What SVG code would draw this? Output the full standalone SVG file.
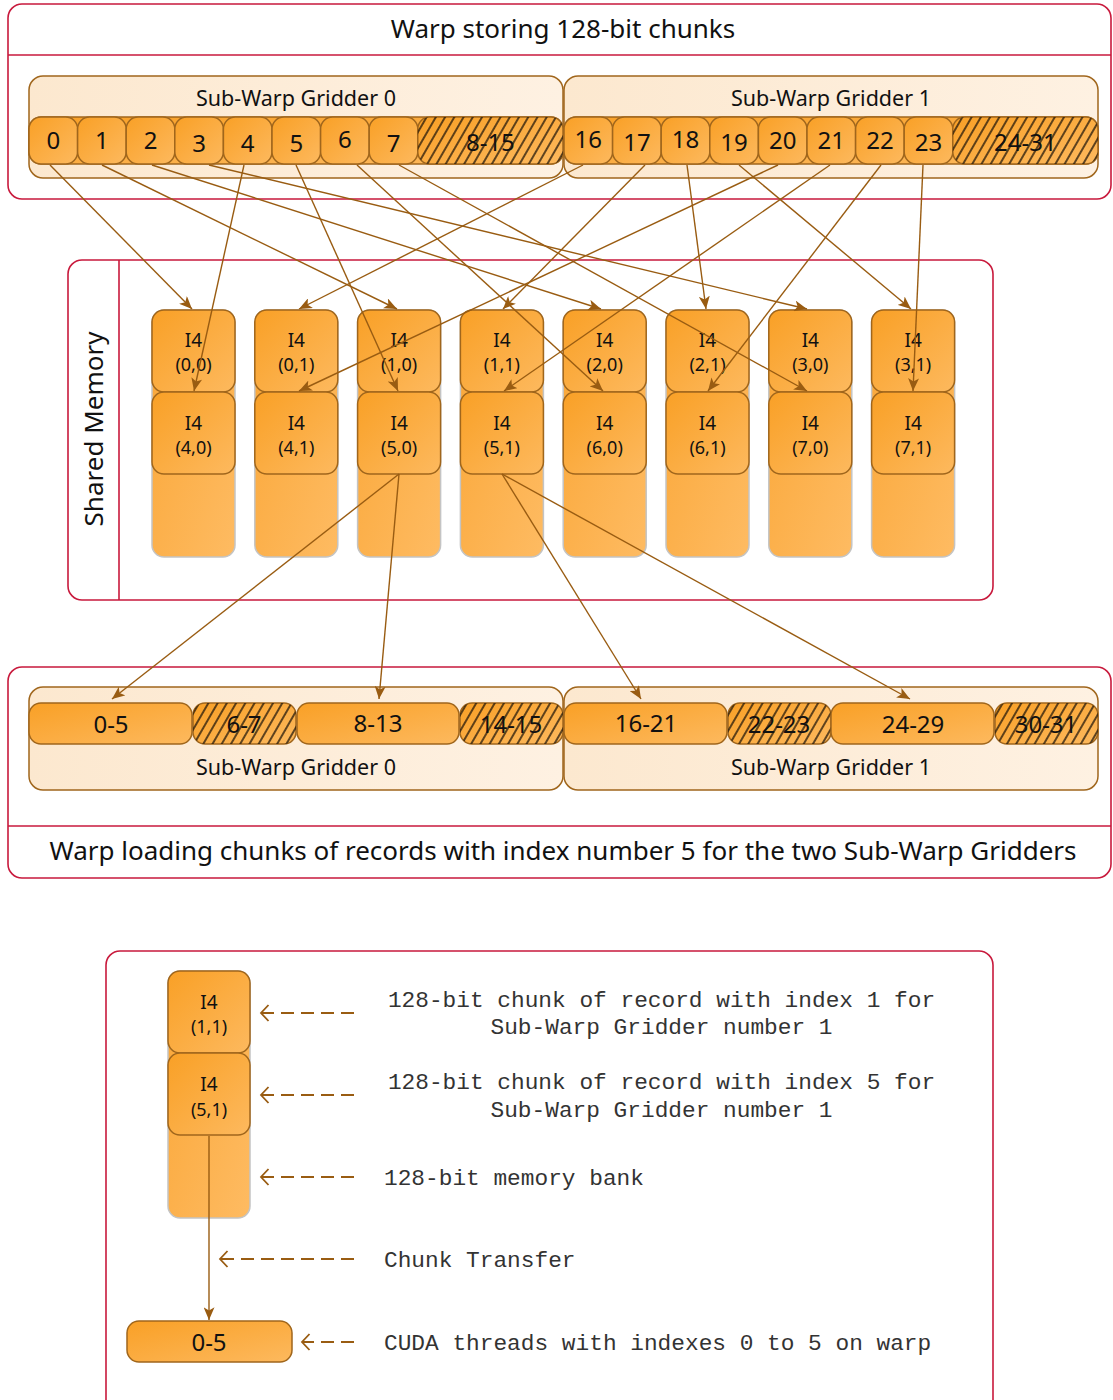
<svg xmlns="http://www.w3.org/2000/svg" width="1113" height="1400" viewBox="0 0 1113 1400">
<defs>
<linearGradient id="cellG" x1="0" y1="0" x2="1" y2="1">
<stop offset="0" stop-color="#F9A026"/><stop offset="1" stop-color="#FDB95E"/>
</linearGradient>
<linearGradient id="bankG" x1="0" y1="0" x2="1" y2="1">
<stop offset="0" stop-color="#FAA636"/><stop offset="1" stop-color="#FEBB62"/>
</linearGradient>
<linearGradient id="swgG" x1="0" y1="0" x2="1" y2="0">
<stop offset="0" stop-color="#FCE8CF"/><stop offset="1" stop-color="#FEF1E2"/>
</linearGradient>
<pattern id="hatch" width="8" height="8" patternUnits="userSpaceOnUse" patternTransform="rotate(30)">
<line x1="4" y1="0" x2="4" y2="8" stroke="#1a1208" stroke-width="1.4"/>
</pattern>
<marker id="arr" viewBox="0 0 14 12" refX="14" refY="6" markerWidth="13" markerHeight="11" markerUnits="userSpaceOnUse" orient="auto">
<path d="M0,0 L14,6 L0,12 L3.5,6 Z" fill="#995C12"/>
</marker>
<marker id="chev" viewBox="0 0 12 18" refX="10" refY="9" markerWidth="12" markerHeight="18" markerUnits="userSpaceOnUse" orient="auto">
<path d="M2.5,1 L10,9 L2.5,17" fill="none" stroke="#995C12" stroke-width="1.8"/>
</marker>
<style>
.frame{fill:#fff;stroke:#C8193C;stroke-width:1.6}
.hdr{stroke:#C8193C;stroke-width:1.6}
.swg{fill:url(#swgG);stroke:#A0661C;stroke-width:1.5}
.row{fill:url(#cellG);stroke:#A0661C;stroke-width:1.5}
.cell{fill:url(#cellG);stroke:#A0661C;stroke-width:1.5}
.hat{fill:url(#hatch);stroke:none}
.bank{fill:url(#bankG);stroke:#C4C4C4;stroke-width:1.5}
.t{font-family:"Noto Sans","Open Sans","Liberation Sans",sans-serif;fill:#111;text-anchor:middle}
.ttl{font-size:26px}
.sw{font-size:21.5px}
.num{font-size:24px}
.c1{font-size:19px}
.c2{font-size:18px}
.mono{font-family:"Liberation Mono","Courier New",monospace;font-size:22.8px;fill:#333}
.con{fill:none;stroke:#995C12;stroke-width:1.4;marker-end:url(#arr)}
.leg{fill:none;stroke:#995C12;stroke-width:1.8;stroke-dasharray:13 7;marker-end:url(#chev)}
</style>
</defs>

<!-- Top section -->
<g id="top-warp">
<rect class="frame" x="8" y="4" width="1103" height="195" rx="14"/>
<line class="hdr" x1="8" y1="55" x2="1111" y2="55"/>
<text class="t ttl" x="563" y="38">Warp storing 128-bit chunks</text>
</g>

<g id="top-swg0">
<rect class="swg" x="29" y="76" width="534" height="102" rx="14"/>
<text class="t sw" x="296" y="106">Sub-Warp Gridder 0</text>
<rect class="row" x="29" y="117" width="534" height="47" rx="12"/>
<rect class="cell" x="29" y="117" width="48.6" height="47" rx="12"/>
<rect class="cell" x="77.6" y="117" width="48.6" height="47" rx="12"/>
<rect class="cell" x="126.2" y="117" width="48.6" height="47" rx="12"/>
<rect class="cell" x="174.8" y="117" width="48.6" height="47" rx="12"/>
<rect class="cell" x="223.4" y="117" width="48.6" height="47" rx="12"/>
<rect class="cell" x="272" y="117" width="48.6" height="47" rx="12"/>
<rect class="cell" x="320.6" y="117" width="48.6" height="47" rx="12"/>
<rect class="cell" x="369.2" y="117" width="48.6" height="47" rx="12"/>
<rect class="cell" x="417.8" y="117" width="145.2" height="47" rx="12"/>
<rect class="hat" x="417.8" y="117" width="145.2" height="47" rx="12"/>
<text class="t num" x="53.3" y="149">0</text>
<text class="t num" x="101.9" y="149">1</text>
<text class="t num" x="150.5" y="149">2</text>
<text class="t num" x="199.1" y="152">3</text>
<text class="t num" x="247.7" y="152">4</text>
<text class="t num" x="296.3" y="152">5</text>
<text class="t num" x="344.9" y="148">6</text>
<text class="t num" x="393.5" y="152">7</text>
<text class="t num" x="490.4" y="151">8-15</text>
</g>

<g id="top-swg1">
<rect class="swg" x="564" y="76" width="534" height="102" rx="14"/>
<text class="t sw" x="831" y="106">Sub-Warp Gridder 1</text>
<rect class="row" x="564" y="117" width="534" height="47" rx="12"/>
<rect class="cell" x="564" y="117" width="48.6" height="47" rx="12"/>
<rect class="cell" x="612.6" y="117" width="48.6" height="47" rx="12"/>
<rect class="cell" x="661.2" y="117" width="48.6" height="47" rx="12"/>
<rect class="cell" x="709.8" y="117" width="48.6" height="47" rx="12"/>
<rect class="cell" x="758.4" y="117" width="48.6" height="47" rx="12"/>
<rect class="cell" x="807" y="117" width="48.6" height="47" rx="12"/>
<rect class="cell" x="855.6" y="117" width="48.6" height="47" rx="12"/>
<rect class="cell" x="904.2" y="117" width="48.6" height="47" rx="12"/>
<rect class="cell" x="952.8" y="117" width="145.2" height="47" rx="12"/>
<rect class="hat" x="952.8" y="117" width="145.2" height="47" rx="12"/>
<text class="t num" x="588.3" y="148">16</text>
<text class="t num" x="636.9" y="151">17</text>
<text class="t num" x="685.5" y="148">18</text>
<text class="t num" x="734.1" y="151">19</text>
<text class="t num" x="782.7" y="149">20</text>
<text class="t num" x="831.3" y="149">21</text>
<text class="t num" x="879.9" y="149">22</text>
<text class="t num" x="928.5" y="151">23</text>
<text class="t num" x="1025.4" y="151">24-31</text>
</g>

<!-- Shared memory -->
<g id="shared-memory">
<rect class="frame" x="68" y="260" width="925" height="340" rx="14"/>
<line class="hdr" x1="119" y1="260" x2="119" y2="600"/>
<text class="t" style="font-size:26px" transform="translate(103,429) rotate(-90)">Shared Memory</text>
</g>

<g id="bank0">
<rect class="bank" x="152" y="310" width="83" height="247" rx="12"/>
<rect class="cell" x="152" y="310" width="83" height="82" rx="12"/>
<rect class="cell" x="152" y="392" width="83" height="82" rx="12"/>
<text class="t c1" x="193.5" y="347">I4</text><text class="t c2" x="193.5" y="371">(0,0)</text>
<text class="t c1" x="193.5" y="430">I4</text><text class="t c2" x="193.5" y="454">(4,0)</text>
</g>
<g id="bank1">
<rect class="bank" x="254.8" y="310" width="83" height="247" rx="12"/>
<rect class="cell" x="254.8" y="310" width="83" height="82" rx="12"/>
<rect class="cell" x="254.8" y="392" width="83" height="82" rx="12"/>
<text class="t c1" x="296.3" y="347">I4</text><text class="t c2" x="296.3" y="371">(0,1)</text>
<text class="t c1" x="296.3" y="430">I4</text><text class="t c2" x="296.3" y="454">(4,1)</text>
</g>
<g id="bank2">
<rect class="bank" x="357.6" y="310" width="83" height="247" rx="12"/>
<rect class="cell" x="357.6" y="310" width="83" height="82" rx="12"/>
<rect class="cell" x="357.6" y="392" width="83" height="82" rx="12"/>
<text class="t c1" x="399.1" y="347">I4</text><text class="t c2" x="399.1" y="371">(1,0)</text>
<text class="t c1" x="399.1" y="430">I4</text><text class="t c2" x="399.1" y="454">(5,0)</text>
</g>
<g id="bank3">
<rect class="bank" x="460.4" y="310" width="83" height="247" rx="12"/>
<rect class="cell" x="460.4" y="310" width="83" height="82" rx="12"/>
<rect class="cell" x="460.4" y="392" width="83" height="82" rx="12"/>
<text class="t c1" x="501.9" y="347">I4</text><text class="t c2" x="501.9" y="371">(1,1)</text>
<text class="t c1" x="501.9" y="430">I4</text><text class="t c2" x="501.9" y="454">(5,1)</text>
</g>
<g id="bank4">
<rect class="bank" x="563.2" y="310" width="83" height="247" rx="12"/>
<rect class="cell" x="563.2" y="310" width="83" height="82" rx="12"/>
<rect class="cell" x="563.2" y="392" width="83" height="82" rx="12"/>
<text class="t c1" x="604.7" y="347">I4</text><text class="t c2" x="604.7" y="371">(2,0)</text>
<text class="t c1" x="604.7" y="430">I4</text><text class="t c2" x="604.7" y="454">(6,0)</text>
</g>
<g id="bank5">
<rect class="bank" x="666" y="310" width="83" height="247" rx="12"/>
<rect class="cell" x="666" y="310" width="83" height="82" rx="12"/>
<rect class="cell" x="666" y="392" width="83" height="82" rx="12"/>
<text class="t c1" x="707.5" y="347">I4</text><text class="t c2" x="707.5" y="371">(2,1)</text>
<text class="t c1" x="707.5" y="430">I4</text><text class="t c2" x="707.5" y="454">(6,1)</text>
</g>
<g id="bank6">
<rect class="bank" x="768.8" y="310" width="83" height="247" rx="12"/>
<rect class="cell" x="768.8" y="310" width="83" height="82" rx="12"/>
<rect class="cell" x="768.8" y="392" width="83" height="82" rx="12"/>
<text class="t c1" x="810.3" y="347">I4</text><text class="t c2" x="810.3" y="371">(3,0)</text>
<text class="t c1" x="810.3" y="430">I4</text><text class="t c2" x="810.3" y="454">(7,0)</text>
</g>
<g id="bank7">
<rect class="bank" x="871.6" y="310" width="83" height="247" rx="12"/>
<rect class="cell" x="871.6" y="310" width="83" height="82" rx="12"/>
<rect class="cell" x="871.6" y="392" width="83" height="82" rx="12"/>
<text class="t c1" x="913.1" y="347">I4</text><text class="t c2" x="913.1" y="371">(3,1)</text>
<text class="t c1" x="913.1" y="430">I4</text><text class="t c2" x="913.1" y="454">(7,1)</text>
</g>

<!-- Bottom section -->
<g id="bottom-warp">
<rect class="frame" x="8" y="667" width="1103" height="211" rx="14"/>
<line class="hdr" x1="8" y1="826" x2="1111" y2="826"/>
<text class="t ttl" x="563" y="860">Warp loading chunks of records with index number 5 for the two Sub-Warp Gridders</text>
</g>

<g id="bottom-swg0">
<rect class="swg" x="29" y="687" width="534" height="103" rx="14"/>
<rect class="cell" x="29" y="703" width="163" height="41" rx="12"/>
<rect class="cell" x="193" y="703" width="103" height="41" rx="12"/>
<rect class="hat" x="193" y="703" width="103" height="41" rx="12"/>
<rect class="cell" x="297" y="703" width="162" height="41" rx="12"/>
<rect class="cell" x="460" y="703" width="103" height="41" rx="12"/>
<rect class="hat" x="460" y="703" width="103" height="41" rx="12"/>
<text class="t num" x="111" y="733">0-5</text>
<text class="t num" x="244" y="733">6-7</text>
<text class="t num" x="378" y="732">8-13</text>
<text class="t num" x="511" y="733">14-15</text>
<text class="t sw" x="296" y="775">Sub-Warp Gridder 0</text>
</g>

<g id="bottom-swg1">
<rect class="swg" x="564" y="687" width="534" height="103" rx="14"/>
<rect class="cell" x="564" y="703" width="163" height="41" rx="12"/>
<rect class="cell" x="728" y="703" width="103" height="41" rx="12"/>
<rect class="hat" x="728" y="703" width="103" height="41" rx="12"/>
<rect class="cell" x="831" y="703" width="163" height="41" rx="12"/>
<rect class="cell" x="995" y="703" width="103" height="41" rx="12"/>
<rect class="hat" x="995" y="703" width="103" height="41" rx="12"/>
<text class="t num" x="646" y="732">16-21</text>
<text class="t num" x="779" y="733">22-23</text>
<text class="t num" x="913" y="733">24-29</text>
<text class="t num" x="1046" y="733">30-31</text>
<text class="t sw" x="831" y="775">Sub-Warp Gridder 1</text>
</g>

<!-- Connectors -->
<g id="connectors">
<line class="con" x1="50" y1="165" x2="192" y2="309"/>
<line class="con" x1="102" y1="165" x2="397" y2="309"/>
<line class="con" x1="152" y1="165" x2="601" y2="309"/>
<line class="con" x1="209" y1="165" x2="807" y2="309"/>
<line class="con" x1="244" y1="165" x2="194" y2="391"/>
<line class="con" x1="296" y1="165" x2="398" y2="391"/>
<line class="con" x1="357" y1="165" x2="603" y2="391"/>
<line class="con" x1="399" y1="165" x2="807" y2="391"/>
<line class="con" x1="583" y1="165" x2="299" y2="309"/>
<line class="con" x1="645" y1="165" x2="503" y2="309"/>
<line class="con" x1="687" y1="165" x2="706" y2="309"/>
<line class="con" x1="739" y1="165" x2="911" y2="309"/>
<line class="con" x1="778" y1="165" x2="299" y2="391"/>
<line class="con" x1="830" y1="165" x2="504" y2="391"/>
<line class="con" x1="881" y1="165" x2="708" y2="391"/>
<line class="con" x1="923" y1="165" x2="913" y2="391"/>
<line class="con" x1="399" y1="474" x2="112" y2="699"/>
<line class="con" x1="399" y1="474" x2="379" y2="699"/>
<line class="con" x1="502" y1="474" x2="641" y2="699"/>
<line class="con" x1="502" y1="474" x2="910" y2="699"/>
</g>

<!-- Legend -->
<g id="legend-frame">
<rect class="frame" x="106" y="951" width="887" height="470" rx="14"/>
</g>
<g id="legend-bank">
<rect class="bank" x="168" y="971" width="82" height="247" rx="12"/>
<rect class="cell" x="168" y="971" width="82" height="82" rx="12"/>
<rect class="cell" x="168" y="1053" width="82" height="82" rx="12"/>
<text class="t c1" x="209" y="1009">I4</text><text class="t c2" x="209" y="1033">(1,1)</text>
<text class="t c1" x="209" y="1091">I4</text><text class="t c2" x="209" y="1116">(5,1)</text>
</g>
<g id="legend-threads">
<rect class="cell" x="127" y="1321" width="165" height="41" rx="12"/>
<text class="t num" x="209" y="1351">0-5</text>
</g>
<g id="legend-connectors">
<line class="con" x1="209" y1="1136" x2="209" y2="1320"/>
<line class="leg" x1="354" y1="1013" x2="261" y2="1013"/>
<line class="leg" x1="354" y1="1095" x2="261" y2="1095"/>
<line class="leg" x1="354" y1="1177" x2="261" y2="1177"/>
<line class="leg" x1="354" y1="1259" x2="220" y2="1259"/>
<line class="leg" x1="354" y1="1342" x2="302" y2="1342"/>
</g>
<g id="legend-texts">
<text class="mono" x="661.5" y="1007" text-anchor="middle">128-bit chunk of record with index 1 for</text>
<text class="mono" x="661.5" y="1034" text-anchor="middle">Sub-Warp Gridder number 1</text>
<text class="mono" x="661.5" y="1089" text-anchor="middle">128-bit chunk of record with index 5 for</text>
<text class="mono" x="661.5" y="1117" text-anchor="middle">Sub-Warp Gridder number 1</text>
<text class="mono" x="384" y="1185">128-bit memory bank</text>
<text class="mono" x="384" y="1267">Chunk Transfer</text>
<text class="mono" x="384" y="1350">CUDA threads with indexes 0 to 5 on warp</text>
</g>
</svg>
